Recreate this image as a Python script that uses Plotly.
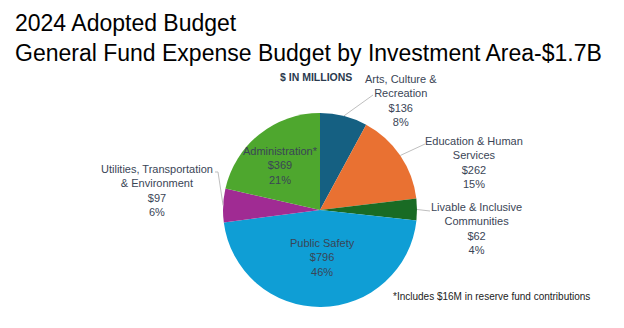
import math
import plotly.graph_objects as go

categories = ["Arts, Culture & Recreation", "Education & Human Services", "Livable & Inclusive Communities",
              "Public Safety", "Utilities, Transportation & Environment", "Administration*"]
values = [136, 262, 62, 796, 97, 369]
percents = ["8%", "15%", "4%", "46%", "6%", "21%"]
colors = ["#156082", "#E97132", "#196B24", "#0F9ED5", "#A02B93", "#4EA72E"]
label_lines = [
    "Arts, Culture &<br>Recreation",
    "Education & Human<br>Services",
    "Livable & Inclusive<br>Communities",
    "Public Safety",
    "Utilities, Transportation<br>& Environment",
    "Administration*",
]

W, H = 624, 328
CX, CY, R = 320, 210, 97
TXT = "#3a4556"
FONT = "Liberation Sans"

def px(x):
    return x / W

def py(y):
    return 1 - y / H

fig = go.Figure(go.Pie(
    labels=categories, values=values, sort=False, direction="clockwise", rotation=0,
    marker=dict(colors=colors, line=dict(width=0)), textinfo="none", hoverinfo="label+value",
    domain=dict(x=[px(CX - R), px(CX + R)], y=[py(CY + R), py(CY - R)]), showlegend=False,
))

# label placement (pixel centers of label blocks)
label_pos = [(401, 101), (474, 162), (477, 229), (322, 257), (157, 190), (280, 165)]
total = sum(values)
cum = 0
annotations = []
shapes = []
label_ends = {0: (373, 95), 1: (425, 144), 2: (430, 211), 4: (218, 172)}
for i, v in enumerate(values):
    mid = (cum + v / 2) / total
    cum += v
    ang = 2 * math.pi * mid
    ex, ey = CX + R * math.sin(ang), CY - R * math.cos(ang)
    lx, ly = label_pos[i]
    text = f"{label_lines[i]}<br>${v}<br>{percents[i]}"
    annotations.append(dict(x=px(lx), y=py(ly), xref="paper", yref="paper", text=text, showarrow=False,
                            xanchor="center", yanchor="middle",
                            font=dict(family=FONT, size=11, color=TXT), align="center"))
    if i in label_ends:
        tx, ty = label_ends[i]
        if i == 4:
            shapes.append(dict(type="path", xref="paper", yref="paper",
                               path=f"M {px(215)} {py(172)} L {px(tx)} {py(ty)} L {px(ex)} {py(ey)}",
                               line=dict(color="#bfbfbf", width=1)))
        else:
            shapes.append(dict(type="line", xref="paper", yref="paper", x0=px(ex), y0=py(ey),
                               x1=px(tx), y1=py(ty), line=dict(color="#bfbfbf", width=1)))

annotations.append(dict(x=px(13), y=py(8), xref="paper", yref="paper", xanchor="left", yanchor="top",
                        text="2024 Adopted Budget<br>General Fund Expense Budget by Investment Area-$1.7B",
                        showarrow=False, align="left", font=dict(family=FONT, size=23, color="#000000")))
annotations.append(dict(x=px(316), y=py(77), xref="paper", yref="paper", xanchor="center", yanchor="middle",
                        text="<b>$ IN MILLIONS</b>",
                        showarrow=False, font=dict(family=FONT, size=10.5, color="#2b3a4e")))
annotations.append(dict(x=px(491), y=py(296), xref="paper", yref="paper", xanchor="center", yanchor="middle",
                        text="*Includes $16M in reserve fund contributions",
                        showarrow=False, font=dict(family=FONT, size=10, color="#222222")))

fig.update_layout(width=W, height=H, margin=dict(l=0, r=0, t=0, b=0),
                  paper_bgcolor="white", plot_bgcolor="white",
                  annotations=annotations, shapes=shapes)
fig.write_html("out.html")
